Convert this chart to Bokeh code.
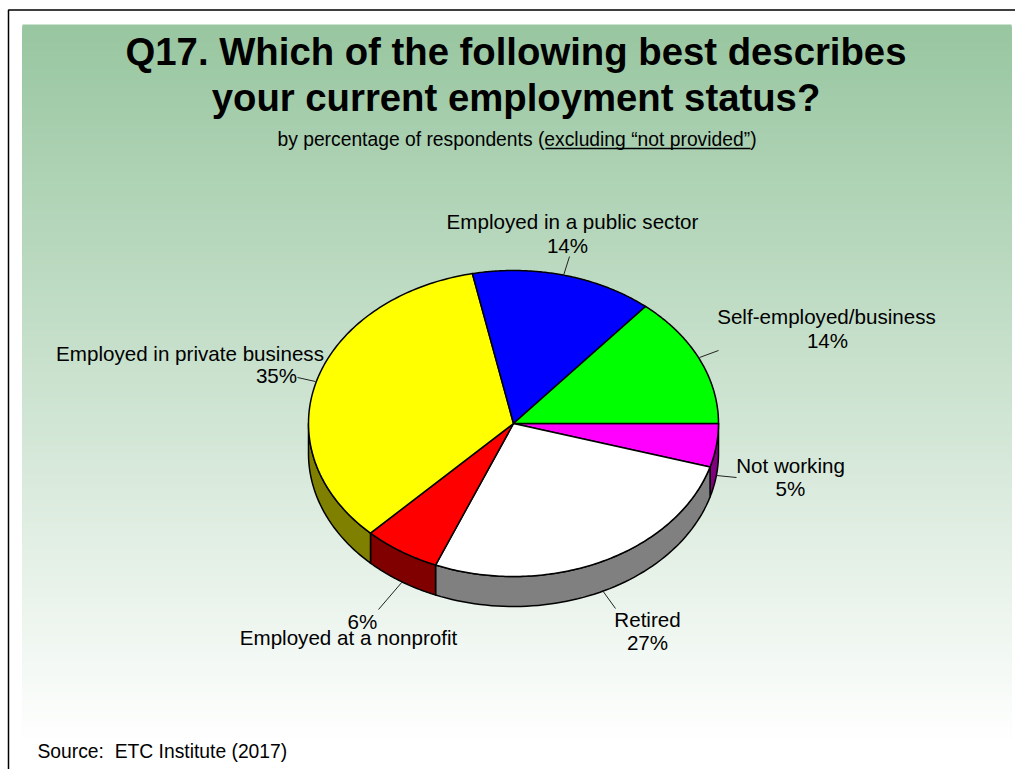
import numpy as np
from bokeh.plotting import figure
from bokeh.core.properties import value
from bokeh.embed import file_html
from bokeh.resources import INLINE

# --- data (clockwise from the east point of the pie) ---
categories = ["Not working", "Retired", "Employed at a nonprofit",
              "Employed in private business", "Employed in a public sector",
              "Self-employed/business"]
shares = [4.6, 26.7, 6.1, 34.6, 14.4, 13.9]
pct_labels = ["5%", "27%", "6%", "35%", "14%", "14%"]
top_colors = ["#FF00FF", "#FFFFFF", "#FF0000", "#FFFF00", "#0000FF", "#00FF00"]
side_colors = ["#800080", "#808080", "#800000", "#808000", "#000080", "#008000"]

title_lines = ["Q17. Which of the following best describes", "your current employment status?"]
subtitle = "by percentage of respondents (excluding “not provided”)"
source = "Source:\u00a0 ETC Institute (2017)"

# --- layout (the data space of the figure is page pixels) ---
W, H = 1015, 769
CX, CY, RX, RY, DEPTH = 513, 423, 205, 153, 30
FONT = value("Liberation Sans")

p = figure(width=W, height=H, x_range=(0, W), y_range=(H, 0),
           output_backend="svg", toolbar_location=None, min_border=0,
           background_fill_color="white", border_fill_color="white",
           outline_line_color=None)
p.xaxis.visible = False
p.yaxis.visible = False
p.grid.visible = False

# background gradient (painted top-down, each band reaching the bottom, so no seams)
G0, G1 = np.array([152, 198, 160]), np.array([255, 255, 255])
ys = np.arange(24, 769)
ts = np.clip((ys - 24) / 720.0, 0, 1)
cols = ["#%02x%02x%02x" % tuple(int(round(c)) for c in (G0 + (G1 - G0) * t)) for t in ts]
p.quad(left=22, right=1011, top=ys, bottom=769, fill_color=cols, fill_alpha=1.0, line_color=None)

# frame
p.line([8, 8, 1015], [769, 9.5, 9.5], line_color="black", line_width=1.5)

# pie
total = sum(shares)
edges = np.concatenate([[0], np.cumsum(shares) / total * 2 * np.pi])

def ell(a, dy=0):
    return CX + RX * np.cos(a), CY + RY * np.sin(a) + dy

# side walls (visible front half only)
for i in range(len(shares)):
    a0, a1 = edges[i], min(edges[i + 1], np.pi)
    if a0 >= np.pi:
        continue
    a = np.linspace(a0, a1, 60)
    xt, yt = ell(a)
    xb, yb = ell(a[::-1], DEPTH)
    p.patch(np.r_[xt, xb], np.r_[yt, yb], fill_color=side_colors[i],
            line_color="black", line_width=1.5, line_join="round")

# top face
for i in range(len(shares)):
    a = np.linspace(edges[i], edges[i + 1], 120)
    xt, yt = ell(a)
    p.patch(np.r_[CX, xt], np.r_[CY, yt], fill_color=top_colors[i],
            line_color="black", line_width=1.5, line_join="round")

# leader lines
leaders = [((716, 475), (736, 477)), ((602, 590), (615, 608)), ((402, 581), (378, 609)),
           ((297, 377), (315, 381)), ((563, 275), (569, 256)), ((699, 357), (718, 350))]
for (a, b) in leaders:
    p.line([a[0], b[0]], [a[1], b[1]], line_color="#222222", line_width=1)

# labels
LABEL_SIZE = "20.6px"
name_pos = [(790, 465), (647, 619), (348, 637), (189.5, 353), (572, 221), (826, 316)]
pct_pos = [(790, 488), (647, 642), (362, 621), (276, 375), (567, 245), (827, 340)]
for txt, (x, y) in zip(categories, name_pos):
    p.text([x], [y], text=[txt], text_font=FONT, text_font_size=LABEL_SIZE, text_align="center",
           text_baseline="alphabetic", text_color="black")
for txt, (x, y) in zip(pct_labels, pct_pos):
    p.text([x], [y], text=[txt], text_font=FONT, text_font_size=LABEL_SIZE, text_align="center",
           text_baseline="alphabetic", text_color="black")

# titles
for txt, y in zip(title_lines, [51, 97]):
    p.text([515.5], [y], text=[txt], text_font=FONT, text_font_size="38.3px", text_font_style="bold",
           text_align="center", text_baseline="alphabetic", text_color="black")
p.text([516.5], [138.5], text=[subtitle], text_font=FONT, text_font_size="19.3px", text_align="center",
       text_baseline="alphabetic", text_color="black")
p.line([545, 750], [148, 148], line_color="black", line_width=1.5)
p.text([37], [751], text=[source], text_font=FONT, text_font_size="19.3px", text_align="left",
       text_baseline="alphabetic", text_color="black")

open("out.html", "w").write(file_html(p, INLINE))
